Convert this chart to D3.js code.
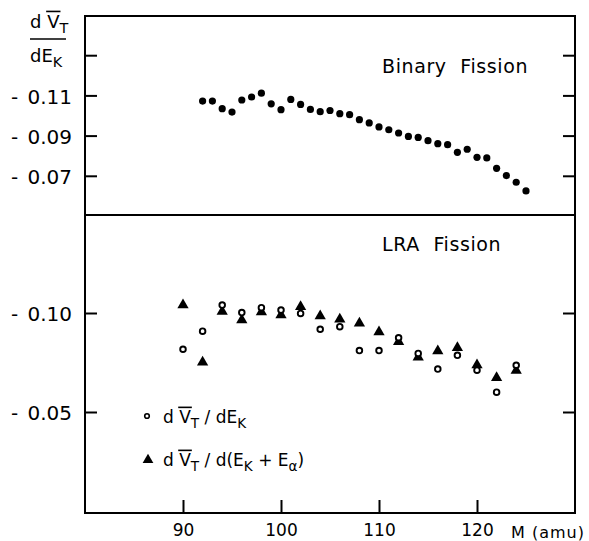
<!DOCTYPE html>
<html><head><meta charset="utf-8">
<script src="https://cdn.jsdelivr.net/npm/d3@7"></script>
<style>
body{margin:0;background:#fff}
text{font-family:"DejaVu Sans",sans-serif;fill:#000}
</style>
</head><body>
<svg id="c" width="589" height="541"></svg>
<script>
// ---- data ----
const binaryMass = [92,93,94,95,96,97,98,99,100,101,102,103,104,105,106,107,108,109,110,111,112,113,114,115,116,117,118,119,120,121,122,123,124,125];
const binaryNuEk = [0.1072,0.1072,0.1034,0.1017,0.1077,0.1092,0.1111,0.1058,0.1029,0.1080,0.1055,0.1030,0.1019,0.1025,0.1009,0.1004,0.0979,0.0963,0.0943,0.0929,0.0913,0.0896,0.0891,0.0875,0.0860,0.0855,0.0817,0.0832,0.0792,0.0789,0.0737,0.0701,0.0668,0.0625];
const lraMass = [90,92,94,96,98,100,102,104,106,108,110,112,114,116,118,120,122,124];
const lraNuEk = [0.0817,0.0908,0.1040,0.1002,0.1027,0.1015,0.0998,0.0918,0.0931,0.0810,0.0810,0.0875,0.0796,0.0717,0.0786,0.0711,0.0600,0.0736];
const lraNuEkEa = [0.1040,0.0751,0.1007,0.0965,0.1005,0.0990,0.1032,0.0985,0.0968,0.0948,0.0904,0.0855,0.0776,0.0808,0.0825,0.0737,0.0673,0.0709];
const xTicks = [90,100,110,120];
const xTickLabels = ["90","100","110","120"];
const topTicks = [0.13,0.11,0.09,0.07];
const topTickLabels = ["","- 0.11","- 0.09","- 0.07"];
const botTicks = [0.10,0.05];
const botTickLabels = ["- 0.10","- 0.05"];

// ---- layout ----
const L = 85, R = 575, T = 16, MID = 215, B = 513;
const svg = d3.select("#c");
const x = d3.scaleLinear().domain([80,130]).range([L,R]);
const yTop = d3.scaleLinear().domain([0.05,0.15]).range([216,15]);
const yBot = d3.scaleLinear().domain([0,0.15]).range([511,214]);

// frame
const frame = svg.append("g").attr("stroke","#000").attr("stroke-width",2).attr("fill","none");
frame.append("rect").attr("x",L).attr("y",T).attr("width",R-L).attr("height",B-T);
frame.append("line").attr("x1",L).attr("x2",R).attr("y1",MID).attr("y2",MID);

function styleAxis(g){
  g.select(".domain").remove();
  g.selectAll(".tick line").attr("stroke","#000").attr("stroke-width",2);
  g.selectAll(".tick text").attr("font-family","DejaVu Sans").attr("fill","#000");
}
// left axes (ticks inward)
const tl = svg.append("g").attr("transform",`translate(${L},0)`)
  .call(d3.axisLeft(yTop).tickValues(topTicks).tickSizeInner(-12).tickSizeOuter(0).tickPadding(13)
    .tickFormat((d,i)=>topTickLabels[i]));
styleAxis(tl);
tl.selectAll(".tick text").attr("font-size",20).attr("word-spacing",3).attr("dy","0.38em");
const bl = svg.append("g").attr("transform",`translate(${L},0)`)
  .call(d3.axisLeft(yBot).tickValues(botTicks).tickSizeInner(-12).tickSizeOuter(0).tickPadding(13)
    .tickFormat((d,i)=>botTickLabels[i]));
styleAxis(bl);
bl.selectAll(".tick text").attr("font-size",20).attr("word-spacing",3).attr("dy","0.38em");
// right axes
const tr = svg.append("g").attr("transform",`translate(${R},0)`)
  .call(d3.axisRight(yTop).tickValues(topTicks).tickSizeInner(-12).tickSizeOuter(0).tickFormat(""));
styleAxis(tr);
const br = svg.append("g").attr("transform",`translate(${R},0)`)
  .call(d3.axisRight(yBot).tickValues(botTicks).tickSizeInner(-12).tickSizeOuter(0).tickFormat(""));
styleAxis(br);
// bottom axis
const bx = svg.append("g").attr("transform",`translate(0,${B})`)
  .call(d3.axisBottom(x).tickValues(xTicks).tickSizeInner(-13).tickSizeOuter(0).tickPadding(10)
    .tickFormat((d,i)=>xTickLabels[i]));
styleAxis(bx);
bx.selectAll(".tick text").attr("font-size",17).attr("dy","0.75em");

svg.append("text").attr("x",511).attr("y",538).attr("font-size",16).attr("letter-spacing",1)
  .text("M (amu)");

// panel titles
svg.append("text").attr("x",382).attr("y",73).attr("font-size",19).attr("letter-spacing",0.6)
  .attr("word-spacing",7).text("Binary Fission");
svg.append("text").attr("x",382).attr("y",251).attr("font-size",19).attr("letter-spacing",0.6)
  .attr("word-spacing",7).text("LRA Fission");

// helper for labels with overbar on V
function richText(xp, yp, size, parts){
  const t = svg.append("text").attr("x",xp).attr("y",yp).attr("font-size",size);
  let vIndex = -1, idx = 0;
  parts.forEach(p=>{
    const ts = t.append("tspan").text(p.s);
    if(p.sub){ ts.attr("font-size",size*0.8).attr("dy",size*0.28); }
    if(p.reset){ ts.attr("dy",-size*0.28); }
    if(p.bar){ vIndex = idx; }
    idx += p.s.length;
  });
  if(vIndex>=0){
    const n = t.node();
    const s = n.getStartPositionOfChar(vIndex), e = n.getEndPositionOfChar(vIndex);
    svg.append("line").attr("x1",s.x-1).attr("x2",e.x+1)
      .attr("y1",yp-size*0.92).attr("y2",yp-size*0.92).attr("stroke","#000").attr("stroke-width",1.6);
  }
  return t;
}

// y-axis label
richText(30,28,18,[{s:"d "},{s:"V",bar:true},{s:"T",sub:true}]);
svg.append("line").attr("x1",30).attr("x2",66).attr("y1",39).attr("y2",39).attr("stroke","#000").attr("stroke-width",1.6);
richText(30,62,18,[{s:"dE"},{s:"K",sub:true}]);

// ---- marks ----
svg.append("g").selectAll("circle").data(binaryMass).join("circle")
  .attr("cx",d=>x(d)).attr("cy",(d,i)=>yTop(binaryNuEk[i])).attr("r",3.6).attr("fill","#000");

const tri = d3.symbol().type(d3.symbolTriangle).size(55);
svg.append("g").selectAll("path").data(lraMass).join("path")
  .attr("d",tri).attr("transform",(d,i)=>`translate(${x(d)},${yBot(lraNuEkEa[i])})`).attr("fill","#000");
svg.append("g").selectAll("circle").data(lraMass).join("circle")
  .attr("cx",d=>x(d)).attr("cy",(d,i)=>yBot(lraNuEk[i])).attr("r",2.8)
  .attr("fill","#fff").attr("stroke","#000").attr("stroke-width",1.9);

// legend
svg.append("circle").attr("cx",147).attr("cy",416).attr("r",2.3).attr("fill","#fff").attr("stroke","#000").attr("stroke-width",1.6);
richText(163,423,17,[{s:"d "},{s:"V",bar:true},{s:"T",sub:true},{s:" / dE",reset:true},{s:"K",sub:true}]);
svg.append("path").attr("d",d3.symbol().type(d3.symbolTriangle).size(50)).attr("transform","translate(148,460)").attr("fill","#000");
richText(163,466,17,[{s:"d "},{s:"V",bar:true},{s:"T",sub:true},{s:" / d(E",reset:true},{s:"K",sub:true},{s:" + E",reset:true},{s:"α",sub:true},{s:")",reset:true}]);
</script>
</body></html>
